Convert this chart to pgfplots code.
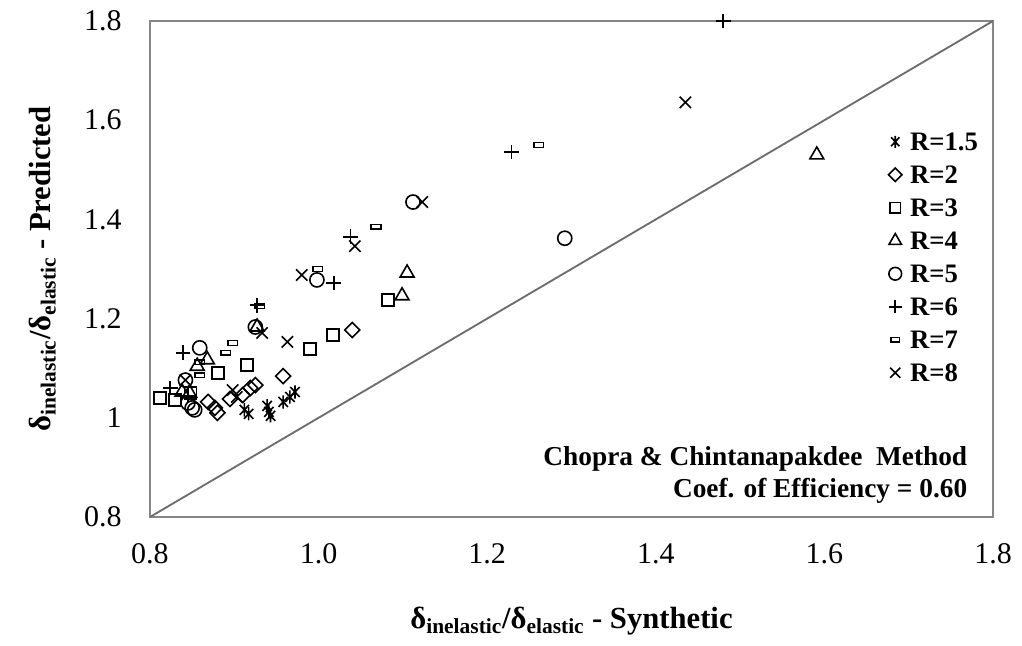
\documentclass[border=0pt]{standalone}
\usepackage{fontspec}
\setmainfont{Liberation Serif}
\usepackage{pgfplots}
\pgfplotsset{compat=1.18}

\definecolor{frame}{RGB}{134,134,134}
\definecolor{diag}{RGB}{110,110,110}

% x with a vertical bar, as in the R=1.5 series
\pgfdeclareplotmark{xbar}{%
  \pgfpathmoveto{\pgfqpoint{-.7\pgfplotmarksize}{-.75\pgfplotmarksize}}
  \pgfpathlineto{\pgfqpoint{.7\pgfplotmarksize}{.75\pgfplotmarksize}}
  \pgfpathmoveto{\pgfqpoint{-.7\pgfplotmarksize}{.75\pgfplotmarksize}}
  \pgfpathlineto{\pgfqpoint{.7\pgfplotmarksize}{-.75\pgfplotmarksize}}
  \pgfpathmoveto{\pgfqpoint{0pt}{-\pgfplotmarksize}}
  \pgfpathlineto{\pgfqpoint{0pt}{\pgfplotmarksize}}
  \pgfusepathqstroke}
% small flat box, as in the R=7 series
\pgfdeclareplotmark{dashbox}{%
  \pgfpathrectanglecorners{\pgfqpoint{-\pgfplotmarksize}{-.5\pgfplotmarksize}}{\pgfqpoint{\pgfplotmarksize}{.5\pgfplotmarksize}}
  \pgfusepathqstroke}

\begin{document}
\begin{tikzpicture}
\begin{axis}[
  scale only axis,
  width=632.25pt, height=372pt,
  xmin=0.8, xmax=1.8, ymin=0.8, ymax=1.8,
  xtick={0.8,1.0,...,1.8}, ytick={0.8,1.0,...,1.8},
  xticklabel style={/pgf/number format/fixed, /pgf/number format/fixed zerofill,
    /pgf/number format/precision=1, inner sep=0pt, anchor=north, yshift=-19.5pt},
  yticklabel style={/pgf/number format/fixed, inner sep=0pt, anchor=east, xshift=-21pt},
  /pgf/number format/assume math mode=true,
  tick label style={font=\fontsize{22.5}{26}\selectfont},
  major tick length=0pt,
  axis line style={draw=frame, line width=1.2pt},
  clip=false,
  xlabel={\textbf{δ\textsubscript{inelastic}/δ\textsubscript{elastic} - Synthetic}},
  ylabel={\textbf{δ\textsubscript{inelastic}/δ\textsubscript{elastic} - Predicted}},
  label style={font=\fontsize{23}{26}\selectfont},
  xlabel style={at={(axis description cs:0.5,0)}, anchor=base, yshift=-84pt},
  ylabel style={at={(axis description cs:-0.118,0.5)}, anchor=base},
  legend style={at={(0.876,0.774)}, anchor=north west, draw=none, fill=none,
    inner sep=0pt, outer sep=0pt,
    font=\fontsize{20}{23}\selectfont\bfseries,
    nodes={inner sep=0pt, text height=13pt, text depth=0pt}, row sep=11.75pt,
    /tikz/every odd column/.style={column sep=6pt}},
  legend image post style={scale=0.9},
  legend cell align=left,
  every axis plot/.append style={only marks, black, line width=1.2pt},
]
\addplot[forget plot, no marks, sharp plot, draw=diag, line width=1.4pt] coordinates {(0.8,0.8) (1.8,1.8)};

\addplot[mark=xbar, mark size=5pt] coordinates {
 (0.912,1.016) (0.917,1.008) (0.939,1.024) (0.941,1.012) (0.943,1.004)
 (0.958,1.032) (0.966,1.042) (0.972,1.052)};
\addlegendentry{R=1.5}
\addplot[mark=square, mark size=4pt, mark options={rotate=45}] coordinates {
 (0.869,1.032) (0.877,1.020) (0.880,1.010) (0.895,1.038) (0.910,1.046)
 (0.919,1.060) (0.925,1.066) (0.958,1.084) (1.040,1.177)};
\addlegendentry{R=2}
\addplot[mark=square, mark size=4.5pt] coordinates {
 (0.812,1.040) (0.830,1.036) (0.848,1.050) (0.881,1.090) (0.915,1.106)
 (0.990,1.139) (1.017,1.167) (1.082,1.238)};
\addlegendentry{R=3}
\addplot[mark=triangle, mark size=6pt] coordinates {
 (0.838,1.052) (0.847,1.050) (0.856,1.104) (0.868,1.117) (0.927,1.183)
 (1.099,1.246) (1.105,1.292) (1.591,1.530)};
\addlegendentry{R=4}
\addplot[mark=o, mark size=5.3pt] coordinates {
 (0.842,1.076) (0.845,1.030) (0.850,1.020) (0.853,1.016) (0.859,1.141)
 (0.925,1.183) (0.998,1.278) (1.112,1.435) (1.292,1.362)};
\addlegendentry{R=5}
\addplot[mark=+, mark size=5.5pt] coordinates {
 (0.824,1.060) (0.845,1.045) (0.839,1.131) (0.927,1.227) (1.018,1.272)
 (1.038,1.365) (1.229,1.536) (1.480,1.800)};
\addlegendentry{R=6}
\addplot[mark=dashbox, mark size=3.6pt] coordinates {
 (0.859,1.086) (0.859,1.112) (0.890,1.131) (0.898,1.151) (0.930,1.225)
 (0.999,1.300) (1.068,1.385) (1.261,1.550)};
\addlegendentry{R=7}
\addplot[mark=x, mark size=6pt] coordinates {
 (0.842,1.076) (0.898,1.056) (0.903,1.042) (0.933,1.171) (0.963,1.153)
 (0.980,1.288) (1.043,1.346) (1.123,1.435) (1.435,1.636)};
\addlegendentry{R=8}

\node[anchor=base east, font=\fontsize{20.5}{24}\selectfont\bfseries] at (rel axis cs:0.975,0.103) {Chopra \& Chintanapakdee~ Method};
\node[anchor=base east, font=\fontsize{20.5}{24}\selectfont\bfseries] at (rel axis cs:0.975,0.040) {Coef. of Efficiency = 0.60};
\end{axis}
\pgfresetboundingbox
\useasboundingbox (-112.5pt,-96.75pt) rectangle (654pt,387.75pt);
\end{tikzpicture}
\end{document}
